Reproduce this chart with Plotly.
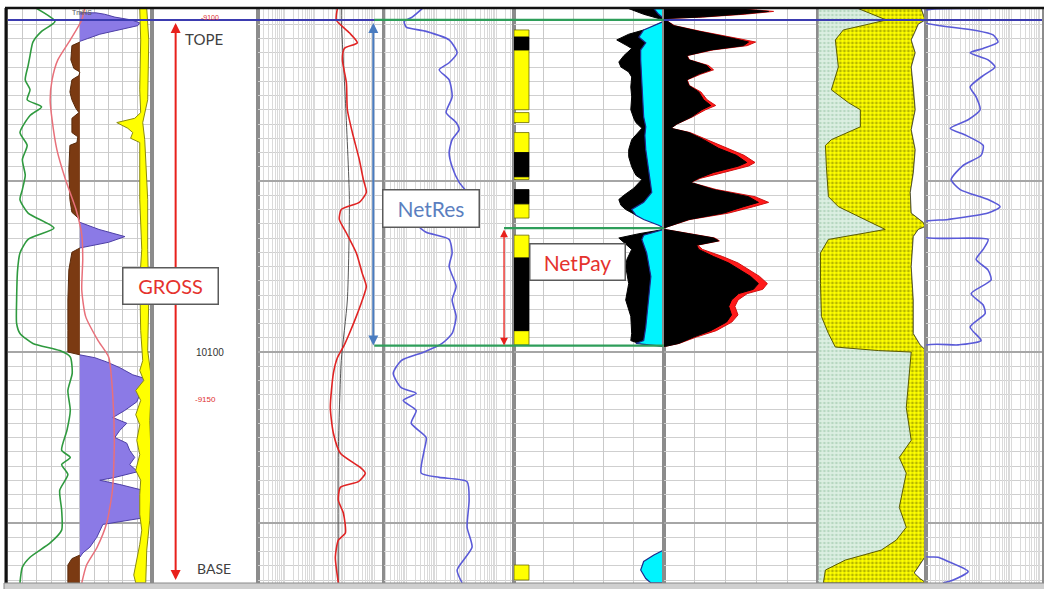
import plotly.graph_objects as go
from plotly.subplots import make_subplots

# ---------------- depth window & zone picks (ft MD) ----------------
DEPTH_TOP = 10075.93
DEPTH_BOTTOM = 10116.21
TOPE = 10076.7
NETPAY_TOP = 10091.3
NET_BASE = 10099.55
BASE = 10116.0
GR_CUTOFF = 75.0

TRACK_WIDTHS = [144, 106, 127, 130, 150, 155, 108, 116]

# ---------------- Track 1 : SP / GR / shallow res / caliper ----------------
sp_depth = [10075.9, 10076.8, 10077.5, 10078.25, 10079.2, 10079.9, 10080.9, 10081.6, 10082.3, 10082.8,
            10083.4, 10084.6, 10085.5, 10086.5, 10087.6, 10088.6, 10089.3, 10090.25, 10091.3, 10092.1,
            10093.05, 10094.25, 10096.35, 10098.0, 10098.7, 10099.4, 10099.9, 10100.35, 10101.5, 10102.7,
            10104.1, 10105.5, 10106.9, 10107.4, 10107.9, 10108.6, 10109.7, 10111.1, 10112.5, 10113.4,
            10114.4, 10115.1, 10116.2]
sp_value = [30, 49, 35, 26, 23, 21, 18, 23, 20, 35,
            23, 12.5, 20, 15, 18, 15, 12.5, 21, 48, 21,
            12.5, 10, 9, 9, 12.5, 26, 54, 65, 67, 62.5,
            65, 61.5, 56, 65, 56, 62.5, 54, 56, 56, 44,
            23, 15, 12.5]

rt1_depth = [10075.9, 10076.7, 10078.1, 10079.5, 10080.9, 10082.3, 10083.7, 10085.8, 10087.9, 10090.0,
             10091.8, 10093.5, 10095.65, 10097.5, 10099.2, 10100.35, 10102.7, 10106.2, 10109.7, 10112.0,
             10113.7, 10114.95, 10116.2]
rt1_value = [80, 77, 65, 52, 46, 44, 46, 51, 60, 71,
             77, 78, 77, 81, 94, 105, 109, 111, 109, 103,
             93, 82, 77]

# GR above cutoff (clean sand, purple)
gr_z1_depth = [10076.2, 10076.3, 10076.5, 10076.7, 10076.9, 10077.1, 10077.4, 10077.7, 10078.0, 10078.2]
gr_z1_value = [92, 101, 111.5, 129, 137.5, 135.4, 116.7, 95.8, 83.3, 75]
gr_z2_depth = [10090.9, 10091.4, 10091.9, 10092.3, 10092.7]
gr_z2_value = [75, 95, 122, 105, 75]
gr_z3_depth = [10100.2, 10100.4, 10100.7, 10101.1, 10101.6, 10102.0, 10102.5, 10103.0, 10103.5, 10104.1,
               10104.6, 10105.0, 10105.5, 10106.0, 10106.4, 10106.9, 10107.4, 10107.9, 10108.4, 10108.8,
               10109.0, 10109.3, 10109.7, 10110.0, 10110.6, 10111.1, 10111.6, 10111.9, 10112.1, 10113.0,
               10113.7, 10114.1, 10114.4]
gr_z3_value = [75, 90.6, 103.1, 116.7, 130.2, 150, 147.9, 137.5, 134.4, 121.9,
               109.4, 124, 116.7, 111.5, 124, 127, 132.3, 127, 135.4, 111.5,
               95.8, 116.7, 140.6, 150, 150, 147.9, 144.8, 116.7, 99, 92.7,
               85.4, 78.1, 75]

# GR below cutoff (shale, brown)
sh_z1_depth = [10078.25, 10078.5, 10079.5, 10080.1, 10080.35, 10080.6, 10080.9, 10081.75, 10082.3, 10082.9,
               10083.2, 10083.6, 10084.6, 10084.9, 10085.3, 10085.5, 10087.2, 10089.3, 10090.2, 10090.7]
sh_z1_value = [75, 66.7, 65.6, 68.75, 75, 74, 66.7, 64.6, 66.7, 70.8,
               74, 66.7, 66.7, 72.9, 71.9, 64.6, 63.5, 64.6, 66.7, 75]
sh_z2_depth = [10092.7, 10093.0, 10094.25, 10096.35, 10098.5, 10100.0, 10100.2]
sh_z2_value = [75, 66.7, 63.5, 62.5, 62.5, 62.5, 75]
sh_z3_depth = [10114.25, 10114.5, 10114.95, 10116.2]
sh_z3_value = [75, 66.7, 62.5, 62.5]

# caliper / bit size band (yellow)
cal_left_depth = [10075.9, 10078.1, 10081.6, 10083.2, 10083.6, 10083.9, 10084.3, 10084.6, 10085.0, 10085.3,
                  10089.3, 10091.4, 10092.8, 10094.95, 10098.5, 10100.6, 10101.3, 10102.0, 10102.7, 10103.4,
                  10104.4, 10105.1, 10106.2, 10107.2, 10108.3, 10109.0, 10110.0, 10111.4, 10112.5, 10113.5,
                  10114.6, 10115.65, 10116.2]
cal_left_value = [137.5, 138.5, 137.5, 138.5, 132.3, 113.5, 125, 130.2, 128, 137.5,
                  137.5, 138.5, 139.6, 137.5, 138.5, 140.6, 137.5, 141.7, 133.3, 138.5,
                  133.3, 137.5, 134.4, 137.5, 133.3, 138.5, 137.5, 137.5, 139.6, 137.5,
                  134.4, 131.25, 133.3]
cal_right_depth = [10075.9, 10078.1, 10082.3, 10083.9, 10085.1, 10089.3, 10092.8, 10096.35, 10099.9, 10102.0,
                   10104.8, 10108.3, 10111.8, 10113.9, 10116.2]
cal_right_value = [144.8, 146.9, 145.8, 140.6, 142.7, 145.8, 145.8, 146.9, 145.8, 150,
                   147.9, 150, 147.9, 144.8, 143.75]

# ---------------- Track 3 : resistivity (log) ----------------
rd_depth = [10075.9, 10076.7, 10077.6, 10078.3, 10078.7, 10079.5, 10081.1, 10083.0, 10084.6, 10086.5,
            10087.9, 10088.8, 10089.5, 10090.0, 10090.7, 10091.65, 10093.05, 10094.5, 10095.4, 10096.35,
            10097.5, 10098.7, 10099.5, 10100.4, 10101.5, 10103.9, 10105.7, 10107.1, 10108.1, 10108.5,
            10109.1, 10109.5, 10110.4, 10111.3, 10112.7, 10113.2, 10114.4, 10116.2]
rd_value = [58.5, 54, 147, 271, 100, 86, 117, 126, 185, 316,
            430, 541, 316, 79, 68, 117, 251, 398, 541, 398,
            251, 147, 100, 58.5, 43, 34, 43, 73.6, 341, 501,
            292, 73.6, 63, 92.6, 108, 63, 50, 63]
rs_depth = [10075.9, 10076.7, 10082.3, 10089.3, 10096.35, 10100.6, 10106.9, 10116.2]
rs_value = [79, 79, 108, 147, 126, 79, 63, 63]

# ---------------- Track 4 : log curve ----------------
t4_depth = [10075.9, 10076.5, 10076.8, 10077.2, 10077.5, 10078.1, 10079.0, 10079.7, 10080.2, 10080.9,
            10082.1, 10083.2, 10083.9, 10084.4, 10085.1, 10086.0, 10087.0, 10088.1, 10089.0, 10090.0,
            10090.9, 10091.2, 10091.6, 10092.1, 10093.05, 10094.0, 10095.4, 10096.35, 10097.5, 10098.7,
            10099.4, 10100.0, 10100.6, 10101.5, 10102.5, 10102.9, 10103.4, 10104.1, 10105.0, 10106.0,
            10106.9, 10108.5, 10108.8, 10109.1, 10110.4, 10112.3, 10113.7, 10115.3, 10116.2]
t4_value = [3.41, 1.58, 0.858, 1.0, 4.64, 27.1, 50.1, 27.1, 12.6, 27.1,
            34.1, 21.5, 46.4, 58.5, 34.1, 27.1, 34.1, 58.5, 126, 108,
            5.84, 2.71, 4.64, 27.1, 34.1, 27.1, 46.4, 34.1, 46.4, 34.1,
            15.8, 3.98, 0.681, 0.369, 0.681, 2.15, 0.794, 2.15, 1.47, 4.64,
            3.98, 3.16, 12.6, 108, 126, 108, 158, 50.1, 73.6]

# ---------------- Track 5 : flags, porosity & BVW ----------------
res_flag_top = [10077.4, 10078.8, 10083.2, 10084.6, 10087.7, 10089.6, 10091.8, 10098.5, 10114.95]
res_flag_bot = [10077.9, 10083.0, 10083.9, 10086.0, 10087.9, 10090.6, 10093.4, 10099.5, 10116.0]
pay_flag_top = [10077.9, 10086.0, 10088.6, 10093.4]
pay_flag_bot = [10078.8, 10087.7, 10089.6, 10098.5]

phi_z0_depth = [10075.9, 10076.3, 10076.6, 10076.7]
phi_z0_value = [38.3, 43.3, 48.3, 50]
phi_z1_depth = [10076.8, 10077.3, 10077.7, 10078.1, 10078.5, 10078.7, 10079.2, 10079.65, 10080.0, 10080.35,
                10080.7, 10081.4, 10082.1, 10083.0, 10083.6, 10083.9, 10084.3, 10084.7, 10085.1, 10085.8,
                10086.3, 10087.0, 10087.6, 10087.9, 10088.5, 10089.0, 10089.3, 10089.7, 10090.0, 10090.5,
                10090.95, 10091.2]
phi_z1_value = [50, 45, 38.3, 34.3, 37.7, 39.3, 36.7, 35, 35.7, 38.3,
                39.3, 39, 39.3, 39, 40, 40.7, 42.7, 41, 39.3, 38.3,
                38.3, 39.3, 40.7, 42.7, 40, 36.7, 35, 35.7, 37.3, 41.7,
                48.3, 50]
phi_z2_depth = [10091.4, 10091.7, 10092.0, 10092.5, 10092.8, 10093.5, 10094.0, 10095.2, 10096.35, 10097.5,
                10098.7, 10099.2, 10099.4, 10099.6]
phi_z2_value = [50, 41.7, 35, 37.7, 39.3, 37.7, 37.3, 38.3, 37.3, 39,
                39.3, 39, 41.7, 50]

bvw_z0_depth = [10075.9, 10076.3, 10076.6]
bvw_z0_value = [46.7, 48.3, 50]
bvw_z1_depth = [10076.8, 10077.4, 10077.9, 10078.3, 10078.8, 10079.5, 10081.1, 10082.3, 10083.5, 10084.2,
                10084.8, 10085.8, 10087.2, 10088.8, 10089.5, 10090.0, 10090.4, 10090.7, 10091.1, 10091.3]
bvw_z1_value = [50, 43.3, 41.7, 44, 42.3, 42.3, 42.7, 43, 43.3, 44,
                43.7, 44, 45, 46, 43.3, 39.3, 40.7, 43.3, 48.3, 50]
bvw_z2_depth = [10091.4, 10091.8, 10092.1, 10093.05, 10094.7, 10096.35, 10098.25, 10099.2, 10099.4, 10099.5, 10099.6]
bvw_z2_value = [50, 43.3, 42.7, 44.3, 45.7, 45, 44, 43.3, 40.7, 45, 50]
bvw_z3_depth = [10113.9, 10114.25, 10114.7, 10115.3, 10115.9, 10116.2]
bvw_z3_value = [50, 46.7, 43.3, 42.3, 44, 45.7]

# ---------------- Track 6 : hydrocarbon volume ----------------
hc_z0_depth = [10075.9, 10076.1, 10076.3, 10076.5, 10076.6]
hc_z0_value = [22.6, 33.9, 24.2, 11.3, 1.6]
hcr_z0_value = [24, 35.5, 26, 12.5, 1.6]
hc_z1_depth = [10076.7, 10077.1, 10077.5, 10078.0, 10078.25, 10078.5, 10078.8, 10079.2, 10079.5, 10079.9,
               10080.2, 10080.5, 10080.9, 10081.3, 10081.75, 10082.3, 10082.7, 10083.0, 10083.5, 10084.0,
               10084.3, 10084.6, 10085.1, 10085.7, 10086.2, 10086.7, 10086.95, 10087.4, 10087.8, 10088.1,
               10088.6, 10089.1, 10089.5, 10089.8, 10090.25, 10090.7, 10091.2, 10091.3]
hc_z1_value = [0.6, 3.2, 11.3, 22.6, 27.4, 25.8, 15.2, 7.4, 8.1, 13.9,
               15.2, 11.3, 7.4, 8.1, 11.3, 12.9, 15.2, 12.3, 9.0, 4.2,
               2.3, 8.1, 12.9, 17.7, 23.5, 26.8, 24.2, 16.1, 11.3, 8.7,
               16.1, 27.4, 30.6, 25.8, 19.4, 8.1, 1.6, 0.3]
hcr_z1_value = [0.6, 3.5, 12, 24, 29.7, 27, 16, 7.6, 8.3, 14.5,
                16.1, 12, 7.6, 8.3, 12, 14, 16.8, 13.5, 9.3, 4.3,
                2.3, 8.5, 14, 20, 26, 29.5, 27.4, 19.4, 12, 8.7,
                17, 29.5, 33.9, 29, 21, 8.5, 1.6, 0.3]
hc_z2_depth = [10091.4, 10091.7, 10092.0, 10092.2, 10092.5, 10092.8, 10093.3, 10093.75, 10094.25, 10094.7,
               10095.2, 10095.6, 10095.9, 10096.35, 10096.8, 10097.4, 10097.9, 10098.5, 10098.95, 10099.4,
               10099.6]
hc_z2_value = [0.3, 8.1, 16.1, 17.7, 10.6, 11.3, 16.1, 21, 24.8, 28.1,
               30.6, 29, 24.2, 21.9, 21, 21.9, 20.3, 15.2, 9.7, 4.8, 0.6]
hcr_z2_value = [0.3, 8.5, 16.5, 18, 11, 12.5, 19, 24, 27.5, 31,
                33.5, 32, 27, 24, 23, 24, 22, 17, 10.5, 5, 0.6]

# ---------------- Track 7 : lithology (%) ----------------
vsh_depth = [10075.9, 10076.3, 10076.7, 10077.0, 10077.4, 10078.1, 10080.0, 10081.6, 10082.5, 10083.0,
             10084.2, 10085.1, 10085.5, 10087.0, 10089.1, 10089.8, 10090.7, 10091.4, 10091.65, 10092.1,
             10093.05, 10095.2, 10097.5, 10098.7, 10099.65, 10099.9, 10100.0, 10101.5, 10103.9, 10106.2,
             10107.4, 10108.5, 10110.9, 10112.3, 10113.2, 10113.9, 10114.6, 10115.3, 10116.2]
vsh_value = [37, 50.9, 63, 46.3, 23.1, 15.7, 18.5, 12, 27.8, 38.9,
             38.9, 12, 6.5, 7.4, 9.3, 18.5, 43.5, 62, 43.5, 9.3,
             1.9, 1.9, 2.8, 9.3, 15.7, 55.6, 86.1, 84.3, 81.5, 86.1,
             75, 81.5, 75, 81.5, 72.2, 58.3, 25, 6.5, 4.6]
sand_depth = [10075.9, 10076.7, 10077.0, 10077.5, 10078.1, 10079.0, 10080.0, 10081.4, 10083.0, 10084.4,
              10085.8, 10087.45, 10088.8, 10090.25, 10090.9, 10091.2, 10091.4, 10091.9, 10094.0, 10096.35,
              10098.7, 10099.5, 10099.9, 10114.25, 10114.6, 10115.1, 10115.5, 10115.9, 10116.2]
sand_value = [95.4, 99.1, 92.6, 89.8, 86.1, 89.8, 86.1, 88, 89.8, 86.1,
              89.8, 88, 85.2, 86.1, 97.2, 99.1, 92.6, 88, 86.1, 88,
              88, 94.4, 100, 100, 97.2, 92.6, 88.9, 94.4, 100]

# ---------------- Track 8 : log curve ----------------
t8_depth = [10075.9, 10076.1, 10076.8, 10077.4, 10077.75, 10078.25, 10078.7, 10079.0, 10079.5, 10080.0,
            10080.6, 10081.4, 10082.1, 10083.0, 10083.7, 10084.3, 10084.8, 10085.5, 10086.2, 10086.9,
            10087.9, 10088.6, 10089.3, 10089.8, 10090.25, 10090.7, 10090.9, 10091.9, 10092.1, 10092.8,
            10093.5, 10094.25, 10094.95, 10095.9, 10096.7, 10097.3, 10098.25, 10099.2, 10099.5, 10099.65,
            10114.25, 10114.4, 10114.7, 10115.4, 10116.0, 10116.2]
t8_value = [17.1, 0.1, 0.1, 5.41, 25.1, 36.8, 11.7, 4.3, 17.1, 29.3,
            11.7, 4.3, 6.81, 9.26, 3.69, 0.926, 3.16, 11.7, 10, 2.51,
            1.0, 2.0, 17.1, 43.0, 17.1, 0.794, 0.1, 0.1, 17.1, 11.7,
            6.81, 17.1, 21.5, 4.64, 11.7, 13.6, 4.3, 10, 1.71, 0.1,
            0.1, 0.369, 0.794, 3.69, 1.17, 0.541]


def fill_poly(depths, values, base):
    xs = [base] + list(values) + [base]
    ys = [depths[0]] + list(depths) + [depths[-1]]
    return xs, ys


def poly_trace(xs, ys, fill, line_color, width=1, **kw):
    return go.Scatter(x=xs, y=ys, mode="lines", fill="toself", fillcolor=fill,
                      line=dict(color=line_color, width=width), hoverinfo="skip", **kw)


def line_trace(xs, ys, color, width=1.5, smooth=True):
    line = dict(color=color, width=width)
    if smooth:
        line.update(shape="spline", smoothing=0.6)
    return go.Scatter(x=xs, y=ys, mode="lines", line=line, hoverinfo="skip")


fig = make_subplots(rows=1, cols=8, shared_yaxes=True, horizontal_spacing=0,
                    column_widths=TRACK_WIDTHS)

# ---- Track 1
for d, v in [(gr_z1_depth, gr_z1_value), (gr_z2_depth, gr_z2_value), (gr_z3_depth, gr_z3_value)]:
    xs, ys = fill_poly(d, v, GR_CUTOFF)
    fig.add_trace(poly_trace(xs, ys, "#8b7ae6", "#4d3fa6"), row=1, col=1)
for d, v in [(sh_z1_depth, sh_z1_value), (sh_z2_depth, sh_z2_value), (sh_z3_depth, sh_z3_value)]:
    xs, ys = fill_poly(d, v, GR_CUTOFF)
    fig.add_trace(poly_trace(xs, ys, "#7b3a12", "#5a2a0a"), row=1, col=1)
fig.add_trace(poly_trace(cal_left_value + cal_right_value[::-1],
                         cal_left_depth + cal_right_depth[::-1], "#ffff00", "#8a8a10"), row=1, col=1)
fig.add_trace(line_trace(rt1_value, rt1_depth, "#e8707a", 1.5), row=1, col=1)
fig.add_trace(line_trace(sp_value, sp_depth, "#2f9a3f", 1.6), row=1, col=1)

# ---- Track 2 (depth) - placeholder trace
fig.add_trace(go.Scatter(x=[], y=[], mode="lines"), row=1, col=2)

# ---- Track 3
fig.add_trace(line_trace(rs_value, rs_depth, "#555555", 1), row=1, col=3)
fig.add_trace(line_trace(rd_value, rd_depth, "#e02424", 1.6), row=1, col=3)

# ---- Track 4
fig.add_trace(line_trace(t4_value, t4_depth, "#5a5ad8", 1.6), row=1, col=4)

# ---- Track 5
fx, fy = [], []
for t, b in zip(res_flag_top, res_flag_bot):
    fx += [0, 5, 5, 0, 0, None]
    fy += [t, t, b, b, t, None]
fig.add_trace(poly_trace(fx, fy, "#ffff00", "#6b6b00", 0.8), row=1, col=5)
px_, py_ = [], []
for t, b in zip(pay_flag_top, pay_flag_bot):
    px_ += [0, 5, 5, 0, 0, None]
    py_ += [t, t, b, b, t, None]
fig.add_trace(poly_trace(px_, py_, "#000000", "#000000", 0.8), row=1, col=5)
for d, v in [(phi_z0_depth, phi_z0_value), (phi_z1_depth, phi_z1_value), (phi_z2_depth, phi_z2_value)]:
    xs, ys = fill_poly(d, v, 50)
    fig.add_trace(poly_trace(xs, ys, "#000000", "#000000"), row=1, col=5)
for d, v in [(bvw_z0_depth, bvw_z0_value), (bvw_z1_depth, bvw_z1_value),
             (bvw_z2_depth, bvw_z2_value), (bvw_z3_depth, bvw_z3_value)]:
    xs, ys = fill_poly(d, v, 50)
    fig.add_trace(poly_trace(xs, ys, "#00f4ff", "#1c2a8c", 1.2), row=1, col=5)

# ---- Track 6
for d, v in [(hc_z0_depth, hcr_z0_value), (hc_z1_depth, hcr_z1_value), (hc_z2_depth, hcr_z2_value)]:
    xs, ys = fill_poly(d, v, 0)
    fig.add_trace(poly_trace(xs, ys, "#ff1a1a", "#d01010"), row=1, col=6)
for d, v in [(hc_z0_depth, hc_z0_value), (hc_z1_depth, hc_z1_value), (hc_z2_depth, hc_z2_value)]:
    xs, ys = fill_poly(d, v, 0)
    fig.add_trace(poly_trace(xs, ys, "#000000", "#000000"), row=1, col=6)

# ---- Track 7
xs, ys = fill_poly(vsh_depth, vsh_value, 0)
fig.add_trace(go.Scatter(x=xs, y=ys, mode="lines", fill="toself", fillcolor="#d9eede",
                         fillpattern=dict(shape=".", bgcolor="#dcefe2", fgcolor="#8fc09e", size=4, solidity=0.35),
                         line=dict(color="#9ab8a0", width=0.5), hoverinfo="skip"), row=1, col=7)
fig.add_trace(go.Scatter(x=vsh_value + sand_value[::-1], y=vsh_depth + sand_depth[::-1], mode="lines",
                         fill="toself", fillcolor="#ffff00",
                         fillpattern=dict(shape=".", bgcolor="#ffff00", fgcolor="#6e6e00", size=4, solidity=0.4),
                         line=dict(color="#5c5c00", width=1), hoverinfo="skip"), row=1, col=7)
xs, ys = fill_poly(sand_depth, sand_value, 100)
fig.add_trace(poly_trace(xs, ys, "#ffffff", "#404020", 0.8), row=1, col=7)

# ---- Track 8
fig.add_trace(line_trace(t8_value, t8_depth, "#5a5ad8", 1.6), row=1, col=8)

# ---------------- axes ----------------
GRID = "#c9c9c9"
LOG_GRID = "#dadada"
fig.update_xaxes(showticklabels=False, ticks="", zeroline=False, showline=False,
                 gridcolor=GRID, gridwidth=1, fixedrange=True)
fig.update_xaxes(range=[0, 150], dtick=15, row=1, col=1)
fig.update_xaxes(range=[0, 1], showgrid=False, row=1, col=2)
fig.update_xaxes(type="log", range=[-0.9, 3.333], dtick="D1", gridcolor=LOG_GRID, row=1, col=3)
fig.update_xaxes(type="log", range=[-0.733, 3.6], dtick="D1", gridcolor=LOG_GRID, row=1, col=4)
fig.update_xaxes(range=[0, 50], dtick=10, row=1, col=5)
fig.update_xaxes(range=[0, 50], dtick=10, row=1, col=6)
fig.update_xaxes(range=[0, 100], dtick=20, row=1, col=7)
fig.update_xaxes(type="log", range=[-0.833, 3.033], dtick="D1", gridcolor=LOG_GRID, row=1, col=8)

fig.update_yaxes(range=[DEPTH_BOTTOM, DEPTH_TOP], showticklabels=False, ticks="", zeroline=False,
                 showline=True, mirror=True, linecolor="#8c8c8c", linewidth=1.5,
                 tick0=10100, dtick=12, showgrid=True, gridcolor="#a6a6a6", gridwidth=1.5,
                 minor=dict(dtick=1, showgrid=True, gridcolor="#cfcfcf", gridwidth=1, ticks=""),
                 fixedrange=True)
fig.update_yaxes(showgrid=False, minor=dict(showgrid=False), row=1, col=2)

# ---------------- zone lines & frame ----------------
def px_x(p):
    return (p - 8) / 1036.0


def px_y(p):
    return (583 - p) / 574.0


shapes = [
    dict(type="line", xref="paper", yref="y", x0=0, x1=1, y0=TOPE, y1=TOPE,
         line=dict(color="#3b3bb0", width=2), layer="above"),
    dict(type="line", xref="paper", yref="y", x0=px_x(375), x1=px_x(665), y0=TOPE, y1=TOPE,
         line=dict(color="#2e9e5a", width=2.2), layer="above"),
    dict(type="line", xref="paper", yref="y", x0=px_x(375), x1=px_x(665), y0=NET_BASE, y1=NET_BASE,
         line=dict(color="#2e9e5a", width=2.2), layer="above"),
    dict(type="line", xref="paper", yref="y", x0=px_x(505), x1=px_x(665), y0=NETPAY_TOP, y1=NETPAY_TOP,
         line=dict(color="#2e9e5a", width=2.2), layer="above"),
    # outer frame
    dict(type="line", xref="paper", yref="paper", x0=px_x(6), x1=px_x(6), y0=px_y(584), y1=px_y(8),
         line=dict(color="#111111", width=3), layer="above"),
    dict(type="line", xref="paper", yref="paper", x0=px_x(5), x1=1.01, y0=px_y(8), y1=px_y(8),
         line=dict(color="#111111", width=2.5), layer="above"),
    dict(type="rect", xref="paper", yref="paper", x0=px_x(4), x1=1.01, y0=px_y(590), y1=px_y(583),
         fillcolor="#cfcfcf", line=dict(color="#8a8a8a", width=1), layer="above"),
]

annotations = [
    # zone arrows
    dict(xref="x2", yref="y2", axref="x2", ayref="y2", x=0.226, y=BASE, ax=0.226, ay=TOPE + 0.1,
         text="", showarrow=True, arrowside="end+start", arrowhead=2, startarrowhead=2,
         arrowsize=1, startarrowsize=1, arrowwidth=2, arrowcolor="#e8201c", standoff=0, startstandoff=0),
    dict(xref="x3", yref="y3", axref="x3", ayref="y3", x=2.967, y=NET_BASE, ax=2.967, ay=TOPE + 0.1,
         text="", showarrow=True, arrowside="end+start", arrowhead=2, startarrowhead=2,
         arrowsize=1, startarrowsize=1, arrowwidth=2, arrowcolor="#4a7cc0", standoff=0, startstandoff=0),
    dict(xref="x4", yref="y4", axref="x4", ayref="y4", x=3.267, y=NET_BASE, ax=3.267, ay=NETPAY_TOP,
         text="", showarrow=True, arrowside="end+start", arrowhead=2, startarrowhead=2,
         arrowsize=1.2, startarrowsize=1.2, arrowwidth=1.3, arrowcolor="#e8201c", standoff=0, startstandoff=0),
    # depth track texts
    dict(xref="x2", yref="y2", x=0.49, y=10078.0, text="TOPE", showarrow=False,
         font=dict(family="Lato", size=15, color="#404040")),
    dict(xref="x2", yref="y2", x=0.59, y=10115.2, text="BASE", showarrow=False,
         font=dict(family="Lato", size=14, color="#404040")),
    dict(xref="x2", yref="y2", x=0.55, y=10100.0, text="10100", showarrow=False,
         font=dict(family="Liberation Sans", size=10, color="#333333")),
    dict(xref="x2", yref="y2", x=0.51, y=10103.35, text="-9150", showarrow=False,
         font=dict(family="Liberation Sans", size=8, color="#e03030")),
    dict(xref="x2", yref="y2", x=0.55, y=10076.5, text="-9100", showarrow=False,
         font=dict(family="Liberation Sans", size=7, color="#e03030")),
    dict(xref="x", yref="y", x=77, y=10076.2, text="TmHS", showarrow=False,
         font=dict(family="Liberation Sans", size=7, color="#555555")),
    # zone label boxes
    dict(xref="paper", yref="paper", x=px_x(122), y=px_y(286), text="GROSS", showarrow=False,
         width=90, height=31, bgcolor="#ffffff", bordercolor="#5a5a5a", borderwidth=1.5, borderpad=2,
         font=dict(family="Lato", size=20, color="#e5322d")),
    dict(xref="paper", yref="paper", x=px_x(431.5), y=px_y(208), text="NetRes", showarrow=False,
         width=91, height=32, bgcolor="#ffffff", bordercolor="#5a5a5a", borderwidth=1.5, borderpad=2,
         font=dict(family="Lato", size=21, color="#5b7fbf")),
    dict(xref="paper", yref="paper", x=px_x(579), y=px_y(261.5), text="NetPay", showarrow=False,
         width=90, height=31, bgcolor="#ffffff", bordercolor="#5a5a5a", borderwidth=1.5, borderpad=2,
         font=dict(family="Lato", size=21, color="#e5322d")),
]

fig.update_layout(width=1044, height=589, margin=dict(l=8, r=0, t=9, b=6),
                  paper_bgcolor="#ffffff", plot_bgcolor="#ffffff", showlegend=False,
                  hovermode=False, shapes=shapes, annotations=annotations)

fig.write_html("out.html")
